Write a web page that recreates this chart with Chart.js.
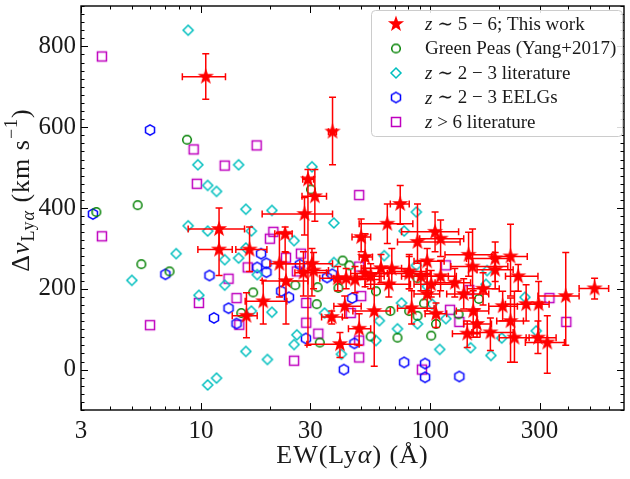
<!DOCTYPE html>
<html>
<head>
<meta charset="utf-8">
<script src="https://cdn.jsdelivr.net/npm/chart.js@4.4.1/dist/chart.umd.min.js"></script>
<style>
  html, body { margin: 0; padding: 0; background: #fff; }
</style>
</head>
<body>
<canvas id="chart" width="630" height="479"></canvas>
<script>
const SERIF = '"Liberation Serif", "DejaVu Serif", serif';
const INK = '#1a1a1a';

// z ~ 5-6 sample: EW(Lya) in Angstrom, velocity offset in km/s, and error bar ends
const starEW = [10.5, 12.0, 12.0, 16.3, 15.8, 37.5, 29.3, 31.4, 28.3, 23.3,
  22.0, 23.5, 18.7, 30.5, 28, 31, 37.2, 40.4, 42.4, 50,
  49, 39.5, 43, 47, 52, 61, 66, 81, 91, 101,
  57, 74, 65, 88, 105, 111, 52, 68, 81, 97,
  111, 83, 97, 106, 147, 153, 140, 154, 145, 160,
  192, 192, 224, 242, 207, 224, 262, 297, 183, 233,
  295, 324, 390, 521, 55, 128, 170];
const starDv = [725, 348, 297, 297, 133, 589, 471, 429, 385, 336,
  262, 219, 169, 262, 240, 245, 130, 63, 157, 328,
  101, 226, 226, 223, 238, 251, 211, 238, 231, 211,
  145, 410, 361, 316, 341, 324, 279, 250, 243, 268,
  231, 152, 187, 138, 284, 255, 187, 145, 89, 113,
  275, 247, 280, 231, 157, 120, 162, 162, 92, 79,
  79, 67, 182, 201, 231, 215, 200];
const starEWLo = [8.3, 8.8, 9.7, 14.2, 13.7, 36, 27.8, 27.6, 18.5, 21,
  20, 18.5, 15.6, 22, 25.7, 27, 33.6, 29, 38, 45.6,
  44, 33, 38, 40, 45, 50, 52, 60, 75, 85,
  46, 67, 49, 72, 75, 90, 49, 51, 68, 85,
  95, 72, 85, 95, 116, 123, 118, 130, 125, 140,
  144, 160, 185, 213, 180, 195, 213, 260, 152, 200,
  262, 260, 295, 446, 48, 105, 145];
const starEWHi = [12.8, 15.5, 13.7, 19.4, 17.6, 39, 31, 35.3, 37.5, 25,
  27, 29.3, 23.7, 37.5, 35.3, 36, 41.4, 49, 50, 55,
  55, 48, 55, 60, 65, 75, 82, 100, 120, 125,
  67, 81, 84, 135, 133, 140, 56, 81, 96, 115,
  130, 104, 110, 118, 188, 218, 180, 180, 165, 185,
  222, 230, 265, 295, 240, 255, 307, 330, 230, 270,
  354, 385, 446, 600, 63, 150, 200];
const starDvLo = [669, 300, 233, 243, 79, 507, 60, 367, 333, 292,
  180, 113, 113, 182, 182, 200, 113, 30, 128, 292,
  60, 195, 200, 190, 205, 215, 180, 200, 195, 180,
  8, 360, 312, 263, 292, 280, 243, 214, 200, 195,
  195, 113, 145, 104, 231, 177, 150, 80, 55, 80,
  218, 200, 182, 194, 121, 18, 120, 80, 47, 18,
  40, -9, 60, 175, 200, 180, 160];
const starDvHi = [782, 400, 350, 353, 190, 674, 495, 495, 426, 353,
  340, 290, 221, 300, 292, 290, 145, 92, 182, 373,
  138, 255, 250, 255, 270, 285, 240, 280, 270, 245,
  240, 456, 410, 410, 390, 370, 336, 300, 285, 300,
  270, 195, 236, 165, 340, 348, 225, 195, 120, 150,
  316, 290, 360, 260, 194, 177, 210, 218, 128, 194,
  120, 133, 290, 226, 262, 250, 240];

// Green Peas (Yang+2017)
const gpEW = [8.7, 3.5, 5.3, 5.5, 7.3, 16.9, 15.0, 30.2, 25.8, 32.3,
  32, 33, 41.5, 44.4, 39.8, 55, 72, 67, 58, 81,
  88, 101, 106, 133, 88, 163, 94];
const gpDv = [569, 390, 407, 261, 243, 191, 140, 446, 209, 204,
  162, 67, 270, 258, 202, 82, 79, 145, 194, 145,
  133, 84, 113, 137, 226, 175, 164];

// z ~ 2-3 literature
const litEW = [8.8, 9.7, 10.7, 11.7, 14.6, 15.7, 8.8, 10.7, 7.8, 12.7,
  14.6, 15.7, 16.6, 12.7, 9.8, 15.7, 10.7, 11.7, 5.0, 30.5,
  20.4, 38, 25.5, 38, 87, 77, 63, 87, 17.6, 20.4,
  16.6, 19.5, 34.6, 26.2, 25.5, 41, 60, 72, 58, 75,
  88, 102, 97, 117, 110, 150, 175, 177, 259, 184,
  290, 205];
const litDv = [840, 507, 456, 441, 507, 397, 356, 343, 287, 272,
  276, 301, 343, 209, 184, 45, -38, -21, 221, 502,
  394, 363, 319, 265, 390, 343, 282, 258, 235, 142,
  145, 25, 140, 86, 62, 38, 121, 101, 72, 165,
  113, 162, 206, 126, 50, 54, 211, 245, 179, 35,
  96, 78];

// z ~ 2-3 EELGs
const eelgEW = [3.38, 6.0, 7.0, 10.9, 13.2, 11.4, 14.3, 18.3, 19.3, 17.6,
  19.3, 22.4, 24.2, 27, 35.5, 37.4, 45.7, 28.7, 46.7, 42,
  77, 95, 95, 134];
const eelgDv = [385, 593, 236, 233, 152, 128, 114, 287, 263, 253,
  241, 194, 179, 260, 228, 236, 177, 77, 65, 0,
  18, 15, -19, -17];

// z > 6 literature
const hizEW = [3.7, 3.7, 6.0, 9.3, 9.6, 12.7, 17.5, 13.2, 16, 9.8,
  14.3, 14.7, 49, 20.7, 20, 23.5, 27.3, 26.2, 28.8, 28.8,
  32.5, 25.5, 49, 50, 45, 49, 49, 92, 117, 148,
  122, 134, 331, 392];
const hizDv = [775, 330, 110, 545, 460, 505, 555, 225, 253, 165,
  177, 111, 432, 341, 324, 277, 287, 243, 165, 116,
  89, 22, 255, 182, 140, 72, 30, 0, 258, 197,
  148, 118, 177, 118];

const xTicks = [3, 10, 30, 100, 300];
const xMinorTicks = [4, 5, 6, 7, 8, 9, 20, 40, 50, 60, 70, 80, 90, 200, 400, 500, 600];
const yTicks = [0, 200, 400, 600, 800];

const pts = (xs, ys) => xs.map((v, i) => ({ x: v, y: ys[i] }));

// marker sprites, drawn once and handed to Chart.js as point styles
function makeMarker(size, draw) {
  const c = document.createElement('canvas');
  c.width = size; c.height = size;
  const g = c.getContext('2d');
  g.translate(size / 2, size / 2);
  draw(g);
  return c;
}

const starMark = makeMarker(22, g => {
  g.beginPath();
  for (let i = 0; i < 10; i++) {
    const r = i % 2 ? 3.4 : 8.5;
    const a = -Math.PI / 2 + i * Math.PI / 5;
    g.lineTo(r * Math.cos(a), r * Math.sin(a));
  }
  g.closePath();
  g.fillStyle = '#ff0000';
  g.fill();
});
const circleMark = makeMarker(14, g => {
  g.beginPath();
  g.arc(0, 0, 4.3, 0, 2 * Math.PI);
  g.strokeStyle = '#008000'; g.lineWidth = 1.5; g.stroke();
});
const diamondMark = makeMarker(14, g => {
  g.beginPath();
  g.moveTo(0, -5); g.lineTo(5, 0); g.lineTo(0, 5); g.lineTo(-5, 0);
  g.closePath();
  g.strokeStyle = '#00bfbf'; g.lineWidth = 1.5; g.stroke();
});
const hexMark = makeMarker(14, g => {
  g.beginPath();
  for (let k = 0; k < 6; k++) {
    const a = -Math.PI / 2 + k * Math.PI / 3;
    g.lineTo(5.2 * Math.cos(a), 5.2 * Math.sin(a));
  }
  g.closePath();
  g.strokeStyle = '#0000ff'; g.lineWidth = 1.5; g.stroke();
});
const squareMark = makeMarker(14, g => {
  g.strokeStyle = '#bf00bf'; g.lineWidth = 1.5;
  g.strokeRect(-4.5, -4.5, 9, 9);
});

// error bars go under the star markers
const errorBars = {
  id: 'errorBars',
  beforeDatasetDraw(chart, args) {
    if (args.index !== 0) return;
    const { ctx, chartArea: a, scales: { x, y } } = chart;
    ctx.save();
    ctx.beginPath();
    ctx.rect(a.left, a.top, a.right - a.left, a.bottom - a.top);
    ctx.clip();
    ctx.strokeStyle = '#ff0000';
    ctx.lineWidth = 1.5;
    const cap = 3.5;
    starEW.forEach((ew, i) => {
      const px = x.getPixelForValue(ew), py = y.getPixelForValue(starDv[i]);
      const x0 = x.getPixelForValue(starEWLo[i]), x1 = x.getPixelForValue(starEWHi[i]);
      const y0 = y.getPixelForValue(starDvLo[i]), y1 = y.getPixelForValue(starDvHi[i]);
      ctx.beginPath();
      ctx.moveTo(x0, py); ctx.lineTo(x1, py);
      ctx.moveTo(x0, py - cap); ctx.lineTo(x0, py + cap);
      ctx.moveTo(x1, py - cap); ctx.lineTo(x1, py + cap);
      ctx.moveTo(px, y0); ctx.lineTo(px, y1);
      ctx.moveTo(px - cap, y0); ctx.lineTo(px + cap, y0);
      ctx.moveTo(px - cap, y1); ctx.lineTo(px + cap, y1);
      ctx.stroke();
    });
    ctx.restore();
  }
};

// box frame with inward ticks on all four sides
const axisFrame = {
  id: 'axisFrame',
  afterDatasetsDraw(chart) {
    const { ctx, chartArea: a, scales: { x, y } } = chart;
    ctx.save();
    ctx.strokeStyle = '#000';
    ctx.lineWidth = 1;
    ctx.beginPath();
    const xt = (v, len) => {
      const p = Math.round(x.getPixelForValue(v)) + 0.5;
      ctx.moveTo(p, a.bottom); ctx.lineTo(p, a.bottom - len);
      ctx.moveTo(p, a.top); ctx.lineTo(p, a.top + len);
    };
    const yt = (v, len) => {
      const p = Math.round(y.getPixelForValue(v)) + 0.5;
      ctx.moveTo(a.left, p); ctx.lineTo(a.left + len, p);
      ctx.moveTo(a.right, p); ctx.lineTo(a.right - len, p);
    };
    xTicks.forEach(v => xt(v, 7));
    xMinorTicks.forEach(v => xt(v, 3.5));
    for (let v = -100; v <= 900; v += 20) {
      if (yTicks.includes(v)) yt(v, 7); else yt(v, 3.5);
    }
    ctx.stroke();
    ctx.lineWidth = 1.4;
    ctx.strokeRect(a.left, a.top, a.right - a.left, a.bottom - a.top);
    ctx.restore();
  }
};

// draw a run of text pieces (italic / sub / superscript) starting at x
function pieceFont(p) {
  return (p.it ? 'italic ' : '') + (p.size || 18) + 'px ' + SERIF;
}
function richWidth(ctx, pieces) {
  let w = 0;
  pieces.forEach(p => { ctx.font = pieceFont(p); w += ctx.measureText(p.t).width; });
  return w;
}
function drawRich(ctx, pieces, x, y) {
  pieces.forEach(p => {
    ctx.font = pieceFont(p);
    ctx.fillText(p.t, x, y + (p.dy || 0));
    x += ctx.measureText(p.t).width;
  });
}

const legendRows = [
  { mark: starMark, text: [{ t: 'z', it: true }, { t: ' ∼ 5 − 6; This work' }] },
  { mark: circleMark, text: [{ t: 'Green Peas (Yang+2017)' }] },
  { mark: diamondMark, text: [{ t: 'z', it: true }, { t: ' ∼ 2 − 3 literature' }] },
  { mark: hexMark, text: [{ t: 'z', it: true }, { t: ' ∼ 2 − 3 EELGs' }] },
  { mark: squareMark, text: [{ t: 'z', it: true }, { t: ' > 6 literature' }] }
];

const legendBox = {
  id: 'legendBox',
  afterDatasetsDraw(chart) {
    const { ctx } = chart;
    ctx.save();
    const bx = 371, by = 10, bw = 251, bh = 126;
    ctx.beginPath();
    ctx.roundRect(bx + 0.5, by + 0.5, bw, bh, 4);
    ctx.fillStyle = 'rgba(255,255,255,0.85)';
    ctx.fill();
    ctx.strokeStyle = '#cccccc';
    ctx.lineWidth = 1;
    ctx.stroke();
    ctx.fillStyle = INK;
    ctx.textBaseline = 'middle';
    legendRows.forEach((row, i) => {
      const cy = 24 + i * 24.5;
      ctx.drawImage(row.mark, 396 - row.mark.width / 2, cy - row.mark.height / 2);
      drawRich(ctx, row.text.map(p => Object.assign({ size: 19 }, p)), 425, cy + 1);
    });
    ctx.restore();
  }
};

// axis titles: drawn by hand for the italic alpha and the sub/superscripts
const axisTitles = {
  id: 'axisTitles',
  afterDraw(chart) {
    const { ctx, chartArea: a } = chart;
    ctx.save();
    ctx.fillStyle = INK;
    ctx.textBaseline = 'middle';

    const xt = [
      { t: 'EW(Ly', size: 26 }, { t: 'α', it: true, size: 26 }, { t: ') (Å)', size: 26 }
    ];
    ctx.letterSpacing = '1px';
    drawRich(ctx, xt, (a.left + a.right) / 2 - richWidth(ctx, xt) / 2, 456);

    const yt = [
      { t: 'Δ', size: 26 }, { t: 'v', it: true, size: 26 },
      { t: 'Ly', size: 18, dy: 7 }, { t: 'α', it: true, size: 18, dy: 7 },
      { t: ' (km s', size: 26 }, { t: '−1', size: 18, dy: -10 }, { t: ')', size: 26 }
    ];
    const w = richWidth(ctx, yt);
    ctx.translate(22, 190);
    ctx.rotate(-Math.PI / 2);
    drawRich(ctx, yt, -w / 2, 0);
    ctx.restore();
  }
};

const point = mark => ({ pointStyle: mark, pointRadius: 5, pointHoverRadius: 5, showLine: false });

new Chart(document.getElementById('chart'), {
  type: 'scatter',
  data: {
    datasets: [
      Object.assign({ label: 'z ~ 5-6; This work', data: pts(starEW, starDv) }, point(starMark)),
      Object.assign({ label: 'Green Peas (Yang+2017)', data: pts(gpEW, gpDv) }, point(circleMark)),
      Object.assign({ label: 'z ~ 2-3 literature', data: pts(litEW, litDv) }, point(diamondMark)),
      Object.assign({ label: 'z ~ 2-3 EELGs', data: pts(eelgEW, eelgDv) }, point(hexMark)),
      Object.assign({ label: 'z > 6 literature', data: pts(hizEW, hizDv) }, point(squareMark))
    ]
  },
  options: {
    responsive: false,
    animation: false,
    layout: { padding: { top: 1, right: 2, left: 0, bottom: 0 } },
    plugins: { legend: { display: false }, tooltip: { enabled: false } },
    scales: {
      x: {
        type: 'logarithmic',
        min: 3,
        max: 700,
        grid: { display: false, drawTicks: false },
        border: { display: false },
        afterBuildTicks: s => { s.ticks = xTicks.map(v => ({ value: v })); },
        afterFit: s => { s.height = 69; s.paddingLeft = 0; s.paddingRight = 0; },
        ticks: {
          autoSkip: false,
          maxRotation: 0,
          padding: 6,
          color: INK,
          font: { family: SERIF, size: 25 },
          callback: v => String(v)
        }
      },
      y: {
        min: -100,
        max: 900,
        grid: { display: false, drawTicks: false },
        border: { display: false },
        afterBuildTicks: s => { s.ticks = yTicks.map(v => ({ value: v })); },
        afterFit: s => { s.width = 81; s.paddingTop = 0; s.paddingBottom = 0; },
        ticks: {
          padding: 5,
          color: INK,
          font: { family: SERIF, size: 25 }
        }
      }
    }
  },
  plugins: [errorBars, axisFrame, legendBox, axisTitles]
});
</script>
</body>
</html>
